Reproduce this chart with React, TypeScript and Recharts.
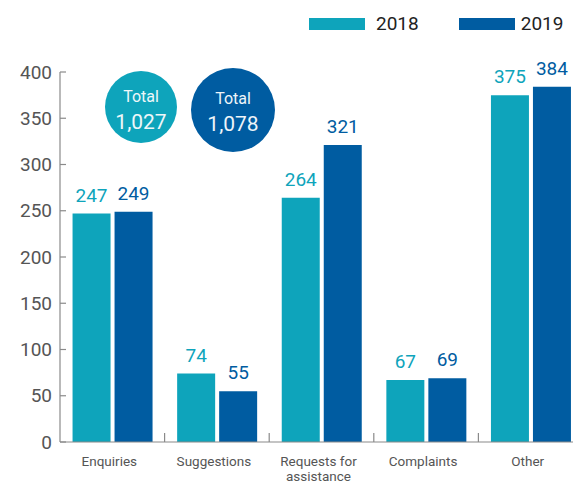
import React from 'react';
import { BarChart, Bar, XAxis, YAxis, LabelList } from 'recharts';

const categories = ['Enquiries', 'Suggestions', 'Requests for\nassistance', 'Complaints', 'Other'];
const values2018 = [247, 74, 264, 67, 375];
const values2019 = [249, 55, 321, 69, 384];
const yTicks = [0, 50, 100, 150, 200, 250, 300, 350, 400];

const C2018 = '#0ea4bb';
const C2019 = '#005ca1';
const AXIS = '#8a8a8a';

const data = categories.map((name, i) => ({ name, y2018: values2018[i], y2019: values2019[i] }));
const total = (arr: number[]) => arr.reduce((a, b) => a + b, 0).toLocaleString('en-US');

const BAND = 523 / categories.length;

const CategoryTick = (props: any) => {
  const { x, y, payload } = props;
  const lines = String(payload.value).split('\n');
  return (
    <g>
      <line x1={x + BAND / 2} x2={x + BAND / 2} y1={y} y2={y - 9} stroke={AXIS} strokeWidth={1.2} />
      <text x={x - 3} y={y + 24} textAnchor="middle" fill="#555" fontSize={13.5} fontFamily="Roboto">
        {lines.map((l: string, j: number) => (
          <tspan key={j} x={x - 3} dy={j === 0 ? 0 : 15}>{l}</tspan>
        ))}
      </text>
    </g>
  );
};

const App = () => {
  return (
    <div style={{ position: 'absolute', left: 0, top: 0, width: 573, height: 484, overflow: 'hidden', background: '#fff' }}>
      <div style={{ position: 'absolute', top: 12, left: 309, display: 'flex', alignItems: 'center', fontFamily: 'Roboto', fontSize: 19, color: '#222' }}>
        <span style={{ width: 56, height: 12, background: C2018, display: 'inline-block' }} />
        <span style={{ marginLeft: 11, marginRight: 40 }}>2018</span>
        <span style={{ width: 56, height: 12, background: C2019, display: 'inline-block' }} />
        <span style={{ marginLeft: 6 }}>2019</span>
      </div>
      <BarChart
        width={583}
        height={484}
        data={data}
        margin={{ top: 72, right: 0, left: 0, bottom: 0 }}
        barCategoryGap="12%"
        barGap={4}
      >
        <YAxis
          width={60}
          domain={[0, 400]}
          ticks={yTicks}
          interval={0}
          axisLine={{ stroke: AXIS, strokeWidth: 1.2 }}
          tickLine={{ stroke: AXIS, strokeWidth: 1.2 }}
          tickSize={-6}
          tickMargin={14}
          tick={{ fill: '#555', fontSize: 19, fontFamily: 'Roboto' }}
        />
        <XAxis
          dataKey="name"
          height={42}
          interval={0}
          tickLine={false}
          tickSize={0}
          tickMargin={0}
          axisLine={{ stroke: AXIS, strokeWidth: 1.2 }}
          tick={<CategoryTick />}
        />
        <Bar dataKey="y2018" fill={C2018} isAnimationActive={false}>
          <LabelList dataKey="y2018" position="top" offset={12} fill={C2018} fontSize={19} fontFamily="Roboto" />
        </Bar>
        <Bar dataKey="y2019" fill={C2019} isAnimationActive={false}>
          <LabelList dataKey="y2019" position="top" offset={12} fill={C2019} fontSize={19} fontFamily="Roboto" />
        </Bar>
      </BarChart>
      <svg width={573} height={484} style={{ position: 'absolute', left: 0, top: 0, pointerEvents: 'none' }}>
        <circle cx={141} cy={107} r={36} fill={C2018} />
        <text x={141} y={102} textAnchor="middle" fill="#eef7f9" fontSize={16} fontFamily="Roboto">Total</text>
        <text x={141} y={129} textAnchor="middle" fill="#eef7f9" fontSize={21} fontFamily="Roboto">{total(values2018)}</text>
        <circle cx={233} cy={110} r={42} fill={C2019} />
        <text x={233} y={104} textAnchor="middle" fill="#eef4f9" fontSize={16} fontFamily="Roboto">Total</text>
        <text x={233} y={131} textAnchor="middle" fill="#eef4f9" fontSize={21} fontFamily="Roboto">{total(values2019)}</text>
      </svg>
    </div>
  );
};

export default App;
